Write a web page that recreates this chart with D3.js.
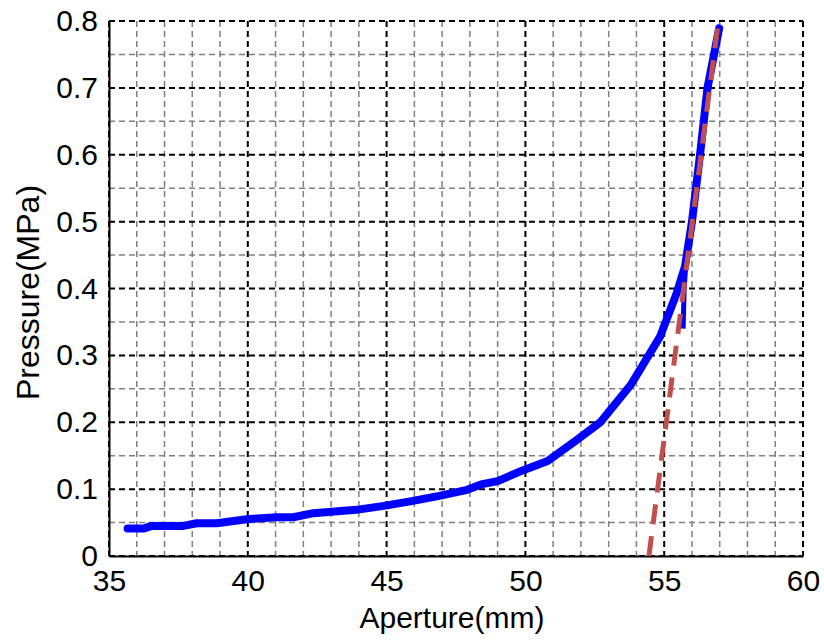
<!DOCTYPE html>
<html>
<head>
<meta charset="utf-8">
<script src="https://cdn.jsdelivr.net/npm/d3@7"></script>
<style>
  body { margin: 0; background: #fff; }
  text { font-family: "Liberation Sans", Arial, sans-serif; }
</style>
</head>
<body>
<script>
// measured curve (pressure vs aperture)
var apertureMain = [35.67, 36.24, 36.54, 37.68, 38.16, 38.88, 39.96, 41.04, 41.64, 42.36, 43.9, 44.9, 45.9, 46.9, 47.9, 48.4, 49.0, 49.9, 50.8, 51.8, 52.7, 53.8, 54.85, 55.45, 55.75, 56.0, 56.29, 56.56, 56.98];
var pressureMain = [0.041, 0.041, 0.045, 0.045, 0.049, 0.049, 0.055, 0.058, 0.058, 0.064, 0.069, 0.075, 0.082, 0.090, 0.099, 0.107, 0.112, 0.128, 0.142, 0.172, 0.200, 0.256, 0.328, 0.393, 0.433, 0.500, 0.600, 0.700, 0.789];
// short branch near the linear part
var apertureBranch = [55.68, 55.72, 55.8];
var pressureBranch = [0.34, 0.40, 0.45];
// linear fit (dashed)
var apertureFit = [54.45, 56.92];
var pressureFit = [0, 0.789];

var xTicks = [35, 40, 45, 50, 55, 60];
var yTicks = [0, 0.1, 0.2, 0.3, 0.4, 0.5, 0.6, 0.7, 0.8];
var xMinor = [36, 37, 38, 39, 41, 42, 43, 44, 46, 47, 48, 49, 51, 52, 53, 54, 56, 57, 58, 59];
var yMinor = [0.05, 0.15, 0.25, 0.35, 0.45, 0.55, 0.65, 0.75];

var W = 824, H = 642;
var margin = {top: 21, right: 21, bottom: 86, left: 109};
var width = W - margin.left - margin.right,
    height = H - margin.top - margin.bottom;

var svg = d3.select("body").append("svg")
    .attr("width", W)
    .attr("height", H)
  .append("g")
    .attr("transform", "translate(" + margin.left + "," + margin.top + ")");

var x = d3.scaleLinear().domain([35, 60]).range([0, width]);
var y = d3.scaleLinear().domain([0, 0.8]).range([height, 0]);

// minor grid
svg.append("g").selectAll("line").data(xMinor).join("line")
    .attr("x1", d => x(d)).attr("x2", d => x(d))
    .attr("y1", 0).attr("y2", height)
    .attr("stroke", "#808080").attr("stroke-width", 1.5)
    .attr("stroke-dasharray", "6,4");
svg.append("g").selectAll("line").data(yMinor).join("line")
    .attr("y1", d => y(d)).attr("y2", d => y(d))
    .attr("x1", 0).attr("x2", width)
    .attr("stroke", "#808080").attr("stroke-width", 1.5)
    .attr("stroke-dasharray", "6,4");

// major grid
svg.append("g").selectAll("line").data(xTicks).join("line")
    .attr("x1", d => x(d)).attr("x2", d => x(d))
    .attr("y1", 0).attr("y2", height)
    .attr("stroke", "#000").attr("stroke-width", 2)
    .attr("stroke-dasharray", "6,4");
svg.append("g").selectAll("line").data(yTicks).join("line")
    .attr("y1", d => y(d)).attr("y2", d => y(d))
    .attr("x1", 0).attr("x2", width)
    .attr("stroke", "#000").attr("stroke-width", 2)
    .attr("stroke-dasharray", "6,4");

// axes (solid left/bottom)
var xAxis = svg.append("g")
    .attr("transform", "translate(0," + height + ")")
    .call(d3.axisBottom(x).tickValues(xTicks).tickSize(0).tickPadding(14).tickFormat(d3.format("d")));
var yAxis = svg.append("g")
    .call(d3.axisLeft(y).tickValues(yTicks).tickSize(0).tickPadding(11).tickFormat(d => d === 0 ? "0" : d3.format(".1f")(d)));
[xAxis, yAxis].forEach(function(a) {
    a.select(".domain").attr("stroke", "#000").attr("stroke-width", 2);
    a.selectAll("text").attr("font-size", 30).attr("fill", "#000")
        .attr("font-family", "Liberation Sans, Arial, sans-serif");
});

var line = d3.line()
    .x(function(d) { return x(d[0]); })
    .y(function(d) { return y(d[1]); });

svg.append("path")
    .datum(d3.zip(apertureMain, pressureMain))
    .attr("fill", "none")
    .attr("stroke", "#0000ff")
    .attr("stroke-width", 8)
    .attr("stroke-linejoin", "round")
    .attr("stroke-linecap", "round")
    .attr("d", line);

svg.append("path")
    .datum(d3.zip(apertureBranch, pressureBranch))
    .attr("fill", "none")
    .attr("stroke", "#0000ff")
    .attr("stroke-width", 5)
    .attr("d", line);

svg.append("path")
    .datum(d3.zip(apertureFit, pressureFit))
    .attr("fill", "none")
    .attr("stroke", "#c0504d")
    .attr("stroke-width", 5)
    .attr("stroke-dasharray", "20,12")
    .attr("d", line);

// axis titles
svg.append("text")
    .attr("x", width / 2 - 4)
    .attr("y", height + 72)
    .attr("text-anchor", "middle")
    .attr("font-size", 30)
    .text("Aperture(mm)");

svg.append("text")
    .attr("transform", "translate(" + (-70) + "," + (height / 2 + 4) + ") rotate(-90)")
    .attr("text-anchor", "middle")
    .attr("font-size", 32)
    .text("Pressure(MPa)");
</script>
</body>
</html>
